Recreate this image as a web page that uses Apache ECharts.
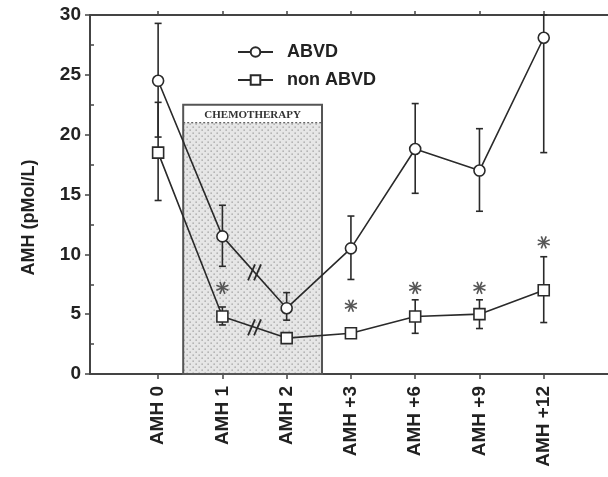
<!DOCTYPE html>
<html><head><meta charset="utf-8">
<script src="https://cdn.jsdelivr.net/npm/echarts@6/dist/echarts.min.js"></script>
<style>html,body{margin:0;padding:0;background:#fff}#c{width:608px;height:477px}</style>
</head><body><div id="c"></div>
<script>
var categories = ['AMH 0','AMH 1','AMH 2','AMH +3','AMH +6','AMH +9','AMH +12'];
var abvd      = [24.5, 11.5, 5.5, 10.5, 18.8, 17.0, 28.1];
var abvdUpper = [29.3, 14.1, 6.8, 13.2, 22.6, 20.5, 30.0];
var abvdLower = [19.8,  9.0, 4.5,  7.9, 15.1, 13.6, 18.5];
var non       = [18.5, 4.8, 3.0, 3.4, 4.8, 5.0, 7.0];
var nonUpper  = [22.7, 5.6, 3.0, 3.4, 6.2, 6.2, 9.8];
var nonLower  = [14.5, 4.1, 3.0, 3.4, 3.4, 3.8, 4.3];
var starIdx   = [1, 3, 4, 5, 6];
var starY     = [7.2, 5.7, 7.2, 7.2, 11.0];
var yTicks    = [0, 5, 10, 15, 20, 25, 30];
var yMinorTicks = [2.5, 7.5, 12.5, 17.5, 22.5, 27.5];
var chemo     = {start: 0.39, end: 2.55, top: 22.5, header: 21, label: 'CHEMOTHERAPY'};
var breakAt   = 1.5;

var catIdx = categories.map(function(c,i){return i;});
var FONT = '"Liberation Sans", Arial, sans-serif';
var INK = '#2a2a2a';

var pc = document.createElement('canvas'); pc.width = 6; pc.height = 6;
var px = pc.getContext('2d');
px.fillStyle = '#e6e6e6'; px.fillRect(0,0,6,6);
px.fillStyle = '#9a9a9a';
px.fillRect(0.5,0.5,1.3,1.3); px.fillRect(3.5,3.5,1.3,1.3);

function pairs(v){ return v.map(function(y,i){return [i,y];}); }
function errData(lo, hi){ return lo.map(function(l,i){return [i,l,hi[i]];}); }

function errRender(params, api){
  var x = api.value(0);
  var p1 = api.coord([x, api.value(1)]);
  var p2 = api.coord([x, api.value(2)]);
  var w = 3.5;
  var st = {stroke: INK, lineWidth: 1.6};
  return {type:'group', children:[
    {type:'line', shape:{x1:p1[0],y1:p1[1],x2:p2[0],y2:p2[1]}, style:st},
    {type:'line', shape:{x1:p1[0]-w,y1:p1[1],x2:p1[0]+w,y2:p1[1]}, style:st},
    {type:'line', shape:{x1:p2[0]-w,y1:p2[1],x2:p2[0]+w,y2:p2[1]}, style:st}
  ]};
}

function starRender(params, api){
  var c = api.coord([api.value(0), api.value(1)]);
  var r = 6.5, ch = [];
  for (var k=0;k<4;k++){
    var a = Math.PI*k/4 + Math.PI/8;
    ch.push({type:'line', shape:{x1:c[0]-r*Math.cos(a), y1:c[1]-r*Math.sin(a), x2:c[0]+r*Math.cos(a), y2:c[1]+r*Math.sin(a)}, style:{stroke:'#555', lineWidth:1.6}});
  }
  return {type:'group', children:ch};
}

function breakRender(params, api){
  var c = api.coord([api.value(0), api.value(1)]);
  var ch = [];
  [-3, 3].forEach(function(o){
    ch.push({type:'line', shape:{x1:c[0]+o-3.5, y1:c[1]+8, x2:c[0]+o+3.5, y2:c[1]-8}, style:{stroke:INK, lineWidth:1.8}});
  });
  return {type:'group', children:ch};
}

function chemoRender(params, api){
  var a = api.coord([api.value(0), api.value(2)]);
  var b = api.coord([api.value(1), 0]);
  var h = api.coord([api.value(0), api.value(3)]);
  var x = a[0], y = a[1], w = b[0]-a[0], hgt = b[1]-a[1];
  return {type:'group', children:[
    {type:'rect', shape:{x:x, y:h[1], width:w, height:b[1]-h[1]}, style:{fill:{image:pc, repeat:'repeat'}}},
    {type:'rect', shape:{x:x, y:y, width:w, height:h[1]-y}, style:{fill:'#fff'}},
    {type:'line', shape:{x1:x, y1:h[1], x2:x+w, y2:h[1]}, style:{stroke:'#555', lineWidth:1.2, lineDash:[2,2]}},
    {type:'rect', shape:{x:x, y:y, width:w, height:hgt}, style:{fill:null, stroke:'#555', lineWidth:2}},
    {type:'text', x: x + w/2, y: (y + h[1])/2 + 1, style:{text: chemo.label, fill:'#333', font:'bold 11px "Liberation Serif", "Times New Roman", serif', align:'center', verticalAlign:'middle'}}
  ]};
}

var breaks = [[breakAt, (abvd[1]+abvd[2])/2], [breakAt, (non[1]+non[2])/2]];

var option = {
  animation: false,
  backgroundColor: '#fff',
  grid: {left: 90, top: 15, height: 359, width: 522, containLabel: false},
  legend: {
    orient: 'vertical', left: 237, top: 42, padding: 0, itemWidth: 35, itemHeight: 12, itemGap: 8,
    data: ['ABVD', 'non ABVD'],
    textStyle: {fontFamily: FONT, fontWeight: 'bold', fontSize: 18, lineHeight: 20, color: '#222', padding: [0,0,0,9]}
  },
  xAxis: [{
    type: 'value', min: -1.06, max: 7, position: 'bottom',
    axisLine: {show: true, onZero: false, lineStyle: {color: '#444', width: 2}},
    axisTick: {show: true, length: 5, customValues: catIdx, lineStyle: {color: '#444', width: 1.5}},
    axisLabel: {show: true, customValues: catIdx, rotate: 90, margin: 12,
      fontFamily: FONT, fontWeight: 'bold', fontSize: 19, color: '#222',
      formatter: function(v){ return categories[Math.round(v)]; }},
    splitLine: {show: false}
  }, {
    type: 'value', min: -1.06, max: 7, position: 'top',
    axisLine: {show: true, onZero: false, lineStyle: {color: '#444', width: 2}},
    axisTick: {show: true, length: 4, customValues: catIdx, lineStyle: {color: '#444', width: 1.5}},
    axisLabel: {show: false}, splitLine: {show: false}
  }],
  yAxis: [{
    type: 'value', min: 0, max: 30, interval: 5, position: 'left',
    name: 'AMH (pMol/L)', nameLocation: 'middle', nameGap: 52, nameRotate: 90,
    nameTextStyle: {fontFamily: FONT, fontWeight: 'bold', fontSize: 18, color: '#222', padding: [0, 46, 0, 0]},
    axisLine: {show: true, onZero: false, lineStyle: {color: '#444', width: 2}},
    axisTick: {show: true, length: 5, customValues: yTicks, lineStyle: {color: '#444', width: 1.5}},
    axisLabel: {margin: 9, fontFamily: FONT, fontWeight: 'bold', fontSize: 19, color: '#222'},
    splitLine: {show: false}
  }, {
    type: 'value', min: 0, max: 30, position: 'left', offset: 0,
    axisLine: {show: false, onZero: false},
    axisTick: {show: true, inside: true, length: 4, customValues: yMinorTicks, lineStyle: {color: '#444', width: 1.5}},
    axisLabel: {show: false}, splitLine: {show: false}
  }],
  series: [
    {type: 'custom', name: 'chemo', renderItem: chemoRender, xAxisIndex: 0, yAxisIndex: 0,
     data: [[chemo.start, chemo.end, chemo.top, chemo.header]], z: 1, silent: true,
     encode: {x: [0,1], y: [2,3]}},
    {type: 'custom', name: 'errA', renderItem: errRender, data: errData(abvdLower, abvdUpper), z: 2, encode: {x: 0, y: [1,2]}},
    {type: 'custom', name: 'errN', renderItem: errRender, data: errData(nonLower, nonUpper), z: 2, encode: {x: 0, y: [1,2]}},
    {type: 'line', name: 'ABVD', data: pairs(abvd), symbol: 'circle', symbolSize: 11, z: 3,
     lineStyle: {color: INK, width: 1.6}, itemStyle: {color: '#fff', borderColor: INK, borderWidth: 1.6}},
    {type: 'line', name: 'non ABVD', data: pairs(non), symbol: 'rect', symbolSize: 11, z: 3,
     lineStyle: {color: INK, width: 1.6}, itemStyle: {color: '#fff', borderColor: INK, borderWidth: 1.6}},
    {type: 'custom', name: 'stars', renderItem: starRender, z: 4,
     data: starIdx.map(function(i,k){return [i, starY[k]];})},
    {type: 'custom', name: 'breaks', renderItem: breakRender, z: 4, data: breaks}
  ]
};
var chart = echarts.init(document.getElementById('c'), null, {renderer: 'canvas'});
chart.setOption(option);
</script></body></html>
